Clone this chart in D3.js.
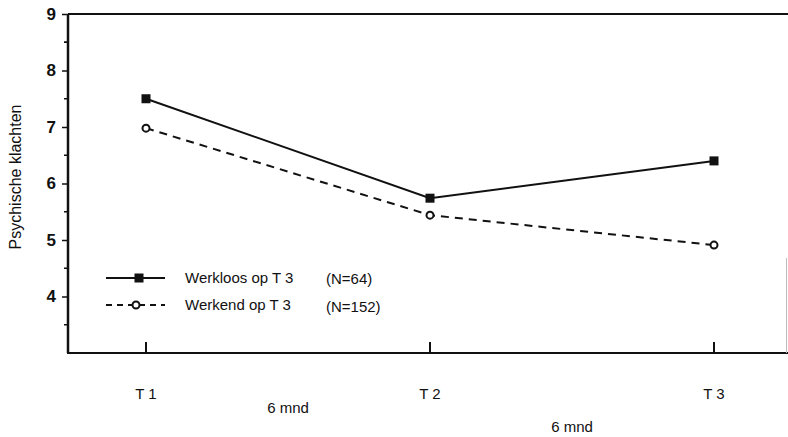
<!DOCTYPE html>
<html>
<head>
  <meta charset="UTF-8" />
  <script src="https://d3js.org/d3.v7.min.js"></script>
  <style>
    body { margin: 0; background: white; }
    text { font-family: "Liberation Sans", Arial, sans-serif; fill: #111; }
  </style>
</head>
<body>
<div id="chart"></div>
<script>
  // data
  var times = ["T 1", "T 2", "T 3"];
  var werkloos = [7.5, 5.74, 6.4];
  var werkend = [6.98, 5.44, 4.91];
  var yTicks = [4, 5, 6, 7, 8, 9];
  var intervals = ["6 mnd", "6 mnd"];

  var svg = d3.select("#chart")
    .append("svg")
    .attr("width", 788)
    .attr("height", 437);

  var xScale = d3.scalePoint()
    .domain(times)
    .range([146, 714]);

  var yScale = d3.scaleLinear()
    .domain([3, 9])
    .range([353, 14]);

  // frame: top line and bottom axis line
  svg.append("line")
    .attr("x1", 68).attr("x2", 788)
    .attr("y1", yScale(9)).attr("y2", yScale(9))
    .attr("stroke", "#111").attr("stroke-width", 2);
  svg.append("line")
    .attr("x1", 67).attr("x2", 788)
    .attr("y1", yScale(3)).attr("y2", yScale(3))
    .attr("stroke", "#111").attr("stroke-width", 2);
  // faint right edge
  svg.append("line")
    .attr("x1", 786.5).attr("x2", 786.5)
    .attr("y1", 258).attr("y2", yScale(3))
    .attr("stroke", "#bbb").attr("stroke-width", 1);

  // y axis
  var yAxis = d3.axisLeft(yScale)
    .tickValues(yTicks)
    .tickSize(6)
    .tickPadding(6)
    .tickFormat(d3.format("d"));
  var gy = svg.append("g")
    .attr("transform", "translate(68,0)")
    .call(yAxis);
  gy.select(".domain")
    .attr("d", "M0," + yScale(9) + "V" + yScale(3))
    .attr("stroke", "#111").attr("stroke-width", 2.5);
  gy.selectAll(".tick line").attr("stroke", "#111").attr("stroke-width", 1.5);
  gy.selectAll(".tick text")
    .style("font-size", "17px")
    .style("font-weight", "bold")
    .style("font-family", "Liberation Sans, Arial, sans-serif")
    .attr("fill", "#111");

  // minor half ticks
  svg.selectAll("line.minor")
    .data(yTicks.map(function (d) { return d - 0.5; }).concat([8.5]))
    .enter()
    .append("line")
    .attr("class", "minor")
    .attr("x1", 64).attr("x2", 68)
    .attr("y1", d => yScale(d)).attr("y2", d => yScale(d))
    .attr("stroke", "#111").attr("stroke-width", 1.5);

  // x ticks pointing upward
  svg.selectAll("line.xtick")
    .data(times)
    .enter()
    .append("line")
    .attr("class", "xtick")
    .attr("x1", d => xScale(d)).attr("x2", d => xScale(d))
    .attr("y1", yScale(3)).attr("y2", yScale(3) - 11)
    .attr("stroke", "#111").attr("stroke-width", 2);

  svg.selectAll("text.xlabel")
    .data(times)
    .enter()
    .append("text")
    .attr("class", "xlabel")
    .attr("x", d => xScale(d))
    .attr("y", 399)
    .attr("text-anchor", "middle")
    .style("font-size", "15px")
    .text(d => d);

  svg.selectAll("text.interval")
    .data(intervals)
    .enter()
    .append("text")
    .attr("class", "interval")
    .attr("x", (d, i) => (xScale(times[i]) + xScale(times[i + 1])) / 2)
    .attr("y", (d, i) => i === 0 ? 413 : 432)
    .attr("text-anchor", "middle")
    .style("font-size", "15px")
    .text(d => d);

  // y label
  svg.append("text")
    .attr("transform", "translate(21,177) rotate(-90)")
    .attr("text-anchor", "middle")
    .style("font-size", "16px")
    .text("Psychische klachten");

  // lines
  var line = d3.line()
    .x((d, i) => xScale(times[i]))
    .y(d => yScale(d));

  svg.append("path")
    .datum(werkloos)
    .attr("d", line)
    .attr("fill", "none")
    .attr("stroke", "#111")
    .attr("stroke-width", 2);

  svg.append("path")
    .datum(werkend)
    .attr("d", line)
    .attr("fill", "none")
    .attr("stroke", "#111")
    .attr("stroke-width", 2)
    .attr("stroke-dasharray", "8,6");

  svg.selectAll("rect.pt")
    .data(werkloos)
    .enter()
    .append("rect")
    .attr("class", "pt")
    .attr("x", (d, i) => xScale(times[i]) - 4.5)
    .attr("y", d => yScale(d) - 4.5)
    .attr("width", 9).attr("height", 9)
    .attr("fill", "#111");

  svg.selectAll("circle.pt")
    .data(werkend)
    .enter()
    .append("circle")
    .attr("class", "pt")
    .attr("cx", (d, i) => xScale(times[i]))
    .attr("cy", d => yScale(d))
    .attr("r", 3.5)
    .attr("fill", "white")
    .attr("stroke", "#111")
    .attr("stroke-width", 2);

  // legend
  var legend = svg.append("g");
  legend.append("line")
    .attr("x1", 106).attr("x2", 165).attr("y1", 278).attr("y2", 278)
    .attr("stroke", "#111").attr("stroke-width", 2);
  legend.append("rect")
    .attr("x", 134.5).attr("y", 273.5).attr("width", 9).attr("height", 9)
    .attr("fill", "#111");
  legend.append("line")
    .attr("x1", 106).attr("x2", 165).attr("y1", 305).attr("y2", 305)
    .attr("stroke", "#111").attr("stroke-width", 2)
    .attr("stroke-dasharray", "6,5");
  legend.append("circle")
    .attr("cx", 136).attr("cy", 305).attr("r", 3.5)
    .attr("fill", "white").attr("stroke", "#111").attr("stroke-width", 2);

  legend.append("text").attr("x", 185).attr("y", 283)
    .style("font-size", "15px").text("Werkloos op T 3");
  legend.append("text").attr("x", 326).attr("y", 284)
    .style("font-size", "15px").text("(N=64)");
  legend.append("text").attr("x", 185).attr("y", 310)
    .style("font-size", "15px").text("Werkend op T 3");
  legend.append("text").attr("x", 326).attr("y", 312)
    .style("font-size", "15px").text("(N=152)");
</script>
</body>
</html>
